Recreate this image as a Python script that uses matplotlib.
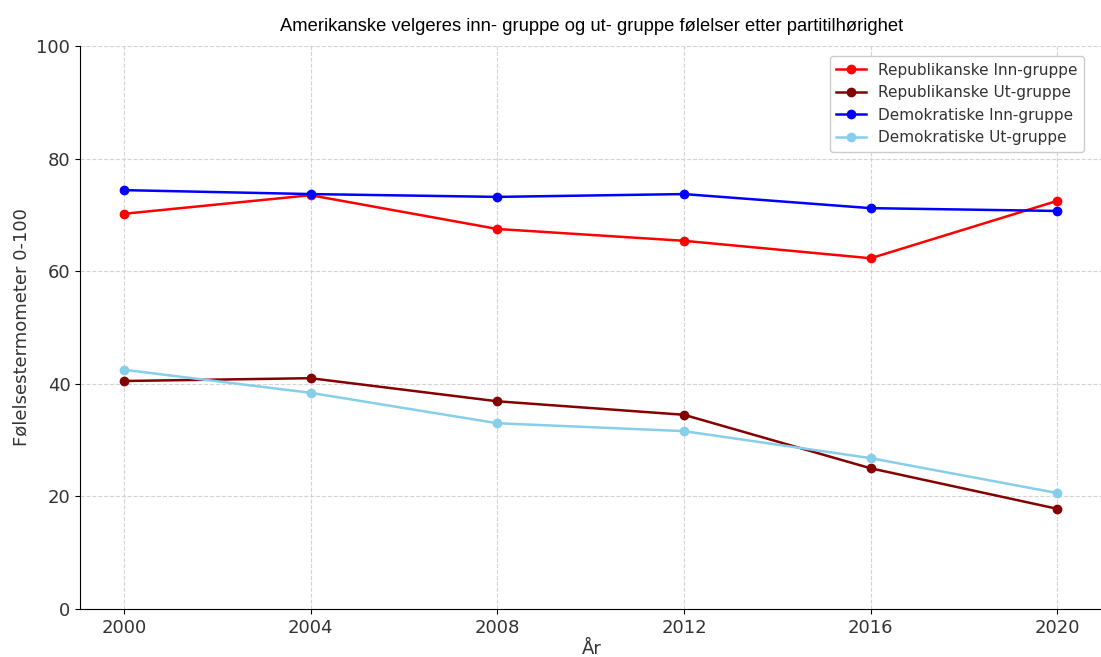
import matplotlib.pyplot as plt

# data
years = [2000, 2004, 2008, 2012, 2016, 2020]
rep_inn = [70.2, 73.5, 67.5, 65.4, 62.3, 72.5]
rep_ut = [40.5, 41.0, 36.9, 34.5, 25.0, 17.8]
dem_inn = [74.4, 73.7, 73.2, 73.7, 71.2, 70.7]
dem_ut = [42.5, 38.4, 33.0, 31.6, 26.8, 20.6]

series = [
    ('Republikanske Inn-gruppe', rep_inn, '#ff0000'),
    ('Republikanske Ut-gruppe', rep_ut, '#850000'),
    ('Demokratiske Inn-gruppe', dem_inn, '#0000ff'),
    ('Demokratiske Ut-gruppe', dem_ut, '#87ceeb'),
]

fig = plt.figure(figsize=(11.01, 6.57), dpi=100)
ax = fig.add_axes([0.0727, 0.073, 0.93, 0.857])

for label, vals, color in series:
    ax.plot(years, vals, marker='o', markersize=6, linewidth=1.8, color=color, label=label)

ax.set_xlim(1999.06, 2021)
ax.set_ylim(0, 100)
ax.set_xticks(years)
ax.set_yticks([0, 20, 40, 60, 80, 100])
ax.tick_params(labelsize=13, labelcolor='#333333')
ax.grid(True, linestyle='--', color='#d4d4d4', linewidth=0.8)
ax.spines['top'].set_visible(False)
ax.spines['right'].set_visible(False)

ax.set_xlabel('År', fontsize=13, color='#333333', labelpad=2)
ax.set_ylabel('Følelsestermometer 0-100', fontsize=13, color='#333333')
ax.set_title('Amerikanske velgeres inn- gruppe og ut- gruppe følelser etter partitilhørighet',
             fontsize=13.2, family='Liberation Sans', pad=11)

leg = ax.legend(loc='upper right', bbox_to_anchor=(0.988, 0.995), fontsize=11, framealpha=1)
for t in leg.get_texts():
    t.set_color('#333333')

fig.savefig('out.png', dpi=100)
